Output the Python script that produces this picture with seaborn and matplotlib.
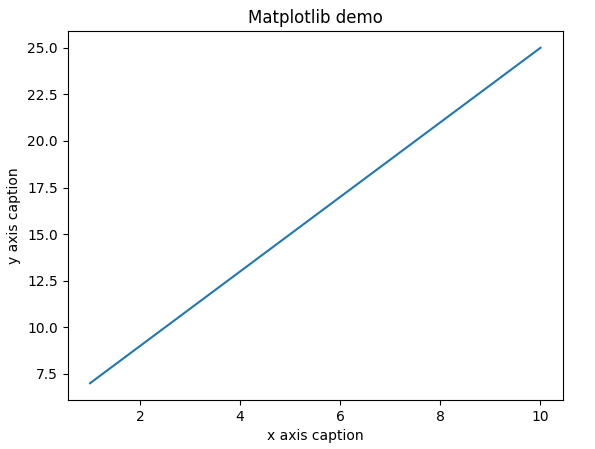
import matplotlib
matplotlib.use("Agg")
import matplotlib.pyplot as plt
import seaborn as sns
import pandas as pd

# data
x_values = [1, 2, 3, 4, 5, 6, 7, 8, 9, 10]
y_values = [7, 9, 11, 13, 15, 17, 19, 21, 23, 25]

df = pd.DataFrame({'x': x_values, 'y': y_values})

fig, ax = plt.subplots(figsize=(5.95, 4.49), dpi=100)
sns.lineplot(data=df, x='x', y='y', ax=ax, color='#1f77b4')
ax.set_title('Matplotlib demo')
ax.set_xlabel('x axis caption')
ax.set_ylabel('y axis caption')
plt.subplots_adjust(left=67.5/595, right=563/595, top=1-31/449, bottom=1-400/449)
plt.savefig('out.png', dpi=100)
